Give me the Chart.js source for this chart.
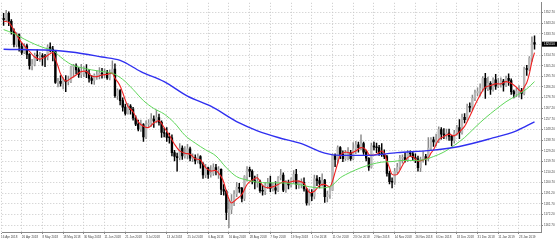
<!DOCTYPE html>
<html>
<head>
<meta charset="utf-8">
<script src="https://cdn.jsdelivr.net/npm/chart.js@4.4.1/dist/chart.umd.min.js"></script>
<style>
html,body{margin:0;padding:0;background:#fff;}
canvas{display:block;}
</style>
</head>
<body>
<canvas id="c" width="557" height="244"></canvas>
<script>
// ---- data (daily candles, 17 Apr 2018 .. 31 Jan 2019) ----
const open = [
1347.5,1346.4,1352.1,1345.0,1335.8,1324.2,1333.0,1322.4,1317.2,1323.0,
1315.3,1305.3,1306.4,1314.6,1314.0,1314.2,1313.2,1312.8,1321.8,1320.0,
1318.0,1290.2,1291.3,1289.5,1291.8,1291.0,1291.5,1304.2,1304.8,1301.5,
1297.5,1298.8,1300.4,1298.5,1293.8,1292.0,1296.5,1297.2,1298.6,1298.0,
1299.0,1294.3,1299.0,1302.3,1278.5,1283.0,1274.0,1268.2,1262.5,1269.2,
1266.0,1258.5,1253.0,1248.5,1252.5,1241.5,1253.0,1254.0,1257.5,1255.8,
1258.8,1254.5,1245.5,1244.8,1241.2,1240.8,1227.5,1224.0,1223.0,1231.5,
1224.5,1225.3,1231.0,1222.5,1223.0,1220.0,1224.0,1217.5,1207.5,1214.0,
1208.0,1208.8,1214.2,1212.0,1212.5,1194.5,1193.0,1174.0,1176.8,1184.0,
1190.5,1196.5,1195.5,1186.5,1206.0,1212.5,1210.8,1202.5,1201.0,1201.5,
1193.5,1193.0,1198.0,1200.5,1195.5,1196.0,1194.0,1205.0,1207.5,1194.0,
1200.5,1198.5,1203.5,1208.0,1199.0,1199.5,1201.0,1195.0,1182.5,1191.5,
1188.5,1204.0,1202.5,1200.0,1203.0,1188.0,1190.0,1194.0,1225.0,1221.5,
1232.0,1226.0,1222.0,1227.0,1227.5,1222.0,1231.0,1234.5,1232.0,1235.5,
1228.0,1222.5,1214.5,1233.5,1232.5,1232.0,1227.0,1226.0,1224.0,1209.0,
1201.5,1201.0,1210.5,1214.5,1222.5,1223.0,1221.0,1227.0,1226.5,1223.0,
1222.0,1214.0,1221.0,1224.0,1222.0,1231.5,1239.0,1237.0,1238.0,1248.0,
1244.0,1243.0,1245.0,1242.0,1238.5,1245.0,1250.0,1245.5,1259.0,1257.0,
1269.0,1268.0,1276.0,1281.0,1282.0,1285.0,1294.0,1285.0,1289.5,1284.0,
1292.5,1287.0,1289.0,1291.5,1288.0,1294.0,1292.0,1282.0,1280.0,1282.5,
1283.0,1280.5,1302.5,1302.0,1312.0,1326.0];
const high = [
1352.0,1354.8,1353.5,1346.5,1338.2,1334.8,1333.8,1325.5,1325.0,1324.5,
1316.0,1311.0,1316.5,1319.5,1317.3,1316.0,1315.3,1324.0,1325.8,1322.5,
1318.8,1294.0,1296.5,1294.5,1296.3,1296.0,1305.0,1306.5,1307.0,1303.5,
1306.5,1304.5,1306.3,1302.0,1296.5,1298.0,1300.5,1303.5,1303.0,1302.5,
1301.0,1301.5,1309.5,1307.0,1284.5,1283.8,1276.5,1271.0,1271.5,1270.5,
1268.0,1260.5,1256.5,1256.5,1253.5,1256.0,1257.0,1262.5,1260.5,1265.5,
1262.0,1256.0,1249.5,1250.0,1245.0,1243.5,1229.5,1227.0,1235.5,1233.5,
1233.0,1235.0,1232.5,1226.5,1225.5,1226.5,1224.8,1218.5,1217.0,1214.5,
1216.0,1217.5,1217.0,1215.0,1213.0,1199.0,1194.0,1185.0,1190.0,1193.5,
1201.0,1200.0,1196.5,1207.0,1215.0,1214.5,1212.0,1206.5,1208.0,1203.0,
1198.5,1201.0,1204.5,1206.5,1200.0,1201.5,1206.0,1212.5,1209.5,1202.5,
1203.0,1205.0,1211.5,1212.5,1202.5,1204.0,1205.0,1195.5,1195.0,1194.5,
1207.5,1207.0,1205.5,1208.5,1203.5,1193.0,1197.0,1226.5,1226.5,1233.5,
1233.0,1229.0,1229.5,1232.0,1229.5,1236.5,1237.5,1237.0,1243.5,1237.0,
1229.5,1223.0,1236.0,1237.0,1236.0,1234.0,1235.5,1230.0,1225.0,1211.0,
1205.0,1213.5,1218.0,1225.0,1225.5,1227.5,1229.5,1229.0,1228.0,1226.5,
1224.5,1223.5,1228.5,1226.0,1241.0,1241.0,1241.5,1244.0,1250.5,1250.0,
1249.0,1248.5,1248.5,1243.0,1247.5,1252.0,1257.0,1262.0,1262.5,1271.0,
1272.0,1279.0,1283.5,1285.5,1289.0,1295.5,1298.5,1295.0,1291.0,1294.5,
1297.5,1294.0,1294.5,1293.0,1296.0,1298.0,1293.5,1283.5,1285.0,1287.5,
1285.0,1304.0,1305.5,1313.5,1331.0,1332.0];
const low = [
1341.2,1344.6,1341.0,1333.5,1322.0,1322.0,1318.3,1315.4,1316.0,1311.5,
1302.2,1301.5,1305.0,1309.8,1309.0,1305.5,1304.3,1310.5,1317.5,1309.5,
1289.5,1286.2,1287.0,1284.5,1282.0,1288.0,1290.0,1295.0,1298.0,1294.8,
1294.5,1295.5,1294.5,1290.5,1289.0,1288.5,1293.0,1293.5,1294.0,1294.5,
1293.0,1292.5,1298.0,1276.8,1275.0,1270.2,1264.5,1261.0,1261.8,1262.0,
1256.5,1251.5,1247.0,1246.5,1237.5,1240.0,1250.5,1251.0,1250.0,1254.0,
1252.0,1241.0,1241.5,1237.5,1236.0,1224.5,1220.0,1211.0,1221.0,1221.5,
1222.5,1222.0,1220.0,1219.5,1217.5,1218.0,1213.5,1204.5,1205.0,1204.5,
1205.5,1207.0,1207.5,1204.5,1190.0,1189.5,1167.5,1160.3,1173.0,1180.0,
1188.0,1192.0,1183.5,1184.5,1202.0,1206.0,1199.5,1195.0,1196.5,1192.0,
1189.5,1190.0,1195.5,1192.5,1193.0,1190.5,1192.5,1203.0,1192.5,1192.0,
1195.0,1196.5,1200.0,1195.0,1195.5,1196.0,1193.0,1180.5,1180.5,1184.5,
1186.0,1198.0,1196.0,1197.5,1183.0,1183.5,1186.5,1193.5,1215.0,1218.0,
1222.0,1219.5,1220.5,1221.0,1220.5,1221.0,1226.5,1228.0,1230.0,1226.0,
1220.0,1211.5,1213.5,1230.0,1227.5,1225.0,1224.0,1222.0,1206.5,1199.5,
1196.0,1199.0,1209.0,1212.5,1218.0,1219.0,1219.5,1224.0,1220.5,1218.5,
1211.0,1210.5,1219.0,1216.5,1220.0,1229.5,1233.0,1233.5,1236.5,1239.5,
1240.0,1239.5,1238.5,1233.5,1236.0,1243.0,1240.0,1244.0,1254.0,1256.5,
1264.0,1265.5,1274.0,1278.5,1278.0,1282.5,1276.0,1283.0,1279.5,1282.5,
1284.0,1285.5,1286.0,1282.5,1286.5,1287.5,1279.5,1276.5,1277.5,1277.0,
1275.5,1279.0,1296.5,1300.5,1309.0,1320.0];
const close = [
1346.4,1352.1,1345.0,1335.8,1324.2,1333.0,1322.4,1317.2,1323.0,1315.3,
1305.3,1306.4,1314.6,1314.0,1314.2,1313.2,1312.8,1321.8,1320.0,1318.0,
1290.2,1291.3,1289.5,1291.8,1291.0,1291.5,1304.2,1304.8,1301.5,1297.5,
1298.8,1300.4,1298.5,1293.8,1292.0,1296.5,1297.2,1298.6,1298.0,1299.0,
1294.3,1299.0,1302.3,1278.5,1283.0,1274.0,1268.2,1262.5,1269.2,1266.0,
1258.5,1253.0,1248.5,1252.5,1241.5,1253.0,1254.0,1257.5,1255.8,1258.8,
1254.5,1245.5,1244.8,1241.2,1240.8,1227.5,1224.0,1223.0,1231.5,1224.5,
1225.3,1231.0,1222.5,1223.0,1220.0,1224.0,1217.5,1207.5,1214.0,1208.0,
1208.8,1214.2,1212.0,1212.5,1194.5,1193.0,1174.0,1176.8,1184.0,1190.5,
1196.5,1195.5,1186.5,1206.0,1212.5,1210.8,1202.5,1201.0,1201.5,1193.5,
1193.0,1198.0,1200.5,1195.5,1196.0,1194.0,1205.0,1207.5,1194.0,1200.5,
1198.5,1203.5,1208.0,1199.0,1199.5,1201.0,1195.0,1182.5,1191.5,1188.5,
1204.0,1202.5,1200.0,1203.0,1188.0,1190.0,1194.0,1225.0,1221.5,1232.0,
1226.0,1222.0,1227.0,1227.5,1222.0,1231.0,1234.5,1232.0,1235.5,1228.0,
1222.5,1214.5,1233.5,1232.5,1232.0,1227.0,1226.0,1224.0,1209.0,1201.5,
1201.0,1210.5,1214.5,1222.5,1223.0,1221.0,1227.0,1226.5,1223.0,1222.0,
1214.0,1221.0,1224.0,1222.0,1231.5,1239.0,1237.0,1238.0,1248.0,1244.0,
1243.0,1245.0,1242.0,1238.5,1245.0,1250.0,1245.5,1259.0,1257.0,1269.0,
1268.0,1276.0,1281.0,1282.0,1285.0,1294.0,1285.0,1289.5,1284.0,1292.5,
1287.0,1289.0,1291.5,1288.0,1294.0,1292.0,1282.0,1280.0,1282.5,1283.0,
1280.5,1302.5,1302.0,1312.0,1326.0,1324.5];

// moving averages (bar index, value)
const maRedIdx = [0,2,4,6,8,10,12,14,16,18,19,20,21,22,24,26,28,30,32,34,36,38,40,42,43,44,45,46,48,50,52,54,56,58,60,62,64,66,68,70,72,74,76,78,80,82,84,85,86,87,88,90,92,94,96,98,100,102,104,106,108,110,112,114,116,118,120,122,124,126,127,128,129,130,132,134,136,138,140,141,142,144,146,147,148,149,150,152,154,156,158,160,162,164,165,166,168,170,172,174,176,178,180,182,184,186,188,190,192,194,196,198,199,200,201,202,203,204,205];
const maRed = [1345,1344,1337,1329,1323,1318,1313,1311,1313,1316,1317,1311,1305,1298,1291.5,1294,1297,1300,1300,1296,1295.5,1297,1297.5,1298.5,1294,1291,1287,1281,1269,1264,1255,1251,1250,1254,1256,1250,1243,1235,1229,1227,1226,1222,1221,1214,1211,1211.5,1206,1201,1193,1186,1182.5,1186,1190,1199,1203,1205,1198,1196,1197,1199,1201.5,1201,1202,1202,1200,1192,1193,1198,1199,1197,1202,1210,1218,1225,1228,1227,1229,1232,1230,1226,1225,1226,1229,1227,1220,1214,1208,1208,1216,1223,1224,1220,1221,1223,1227,1230,1239,1242,1244,1242.5,1246,1251,1260,1270,1279,1286,1287.5,1289,1289,1291,1289.5,1286,1283.5,1282,1286,1290,1298,1309,1317];
const maGreenIdx = [0,4,8,12,16,19,22,26,30,34,38,42,46,50,54,58,62,66,70,74,78,82,86,90,94,98,102,106,110,114,118,122,126,130,134,138,142,146,150,154,158,162,166,170,174,178,182,186,190,194,198,202,205];
const maGreen = [1337.5,1334,1329,1324.5,1321,1319,1313,1306.5,1303.5,1301.5,1300,1298.5,1293,1284,1274,1267,1262,1254,1243,1236,1230,1224.5,1214,1206,1203,1201,1200.5,1200.5,1200,1199,1197,1196,1197,1205,1210,1214,1217,1219,1219.5,1220.5,1220.5,1221,1224,1228,1234,1241,1250,1258.5,1266,1273,1278.5,1284.5,1291];
const maBlueIdx = [0,18,26,38,45,53,62,71,80,91,98,106,115,124,130,140,152,165,176,188,198,205];
const maBlue = [1320,1319,1317.5,1313,1310,1300,1291,1278,1269,1254,1247,1241,1235.5,1227,1225,1225,1227.5,1229.5,1233,1240,1247,1255];

// axis labels
const xTickLabels = ["16 Apr 2018","26 Apr 2018","8 May 2018","18 May 2018","30 May 2018","11 Jun 2018","21 Jun 2018","3 Jul 2018","13 Jul 2018","25 Jul 2018","6 Aug 2018","16 Aug 2018","28 Aug 2018","7 Sep 2018","19 Sep 2018","1 Oct 2018","11 Oct 2018","23 Oct 2018","2 Nov 2018","14 Nov 2018","26 Nov 2018","6 Dec 2018","18 Dec 2018","31 Dec 2018","11 Jan 2019","23 Jan 2019"];
const yTicks = [1352.70,1343.20,1333.70,1324.20,1314.70,1305.20,1295.70,1286.20,1276.70,1267.20,1257.70,1248.20,1238.70,1229.20,1219.70,1210.20,1200.70,1191.20,1181.70,1172.20,1162.70];

// ---- chart ----
const N = close.length;
const bull = close.map((c,i)=>c>=open[i]);
const bodyData = close.map((c,i)=>({x:i, y:[open[i], c]}));
const wickData = close.map((c,i)=>({x:i, y:[low[i], high[i]]}));
const pts = (idx, vals) => idx.map((x,k)=>({x:x, y:vals[k]}));

const priceBox = {
  id:'priceBox',
  afterDraw(chart){
    const ys = chart.scales.y, ctx = chart.ctx;
    const last = close[N-1];
    const py = ys.getPixelForValue(last);
    const x0 = chart.chartArea.right + 1;
    ctx.save();
    ctx.fillStyle = '#000';
    ctx.fillRect(x0, py-2.5, 557-x0, 5);
    ctx.fillStyle = '#fff';
    ctx.font = '3px "Liberation Sans"';
    ctx.textBaseline = 'middle';
    ctx.textAlign = 'left';
    ctx.fillText(last.toFixed(2), x0+2, py);
    ctx.restore();
  }
};

new Chart(document.getElementById('c'), {
  type:'bar',
  data:{
    datasets:[
      {type:'line', data:pts(maBlueIdx, maBlue), borderColor:'#3030f0', borderWidth:1.4, pointRadius:0, cubicInterpolationMode:'monotone', order:0},
      {type:'line', data:pts(maGreenIdx, maGreen), borderColor:'#5fd65a', borderWidth:1, pointRadius:0, cubicInterpolationMode:'monotone', order:0},
      {type:'line', data:pts(maRedIdx, maRed), borderColor:'#f02020', borderWidth:1.1, pointRadius:0, tension:0.3, order:0},
      {data:bodyData, backgroundColor:bull.map(b=>b?'#b8b8b8':'#000'), borderWidth:0, barThickness:1.7, grouped:false, minBarLength:0.8, order:1},
      {data:wickData, backgroundColor:bull.map(b=>b?'#8a8a8a':'#000'), borderWidth:0, barThickness:0.8, grouped:false, order:2}
    ]
  },
  options:{
    responsive:false, animation:false, events:[],
    layout:{padding:0},
    plugins:{legend:{display:false}, tooltip:{enabled:false}},
    scales:{
      x:{
        type:'linear', min:-0.5, max:207.5, offset:false, position:'bottom',
        grid:{offset:false, color:'#c8c8c8', lineWidth:1, tickLength:2, tickColor:'#888'},
        border:{dash:[1,2], color:'#888', width:1},
        ticks:{autoSkip:false, maxRotation:0, minRotation:0, align:'start', padding:1, color:'#444',
               font:{size:3, family:'Liberation Sans'}, callback:(v,i)=>xTickLabels[i]},
        afterBuildTicks:s=>{ s.ticks = xTickLabels.map((_,k)=>({value:-1+8*k})); },
        afterFit:s=>{ s.height = 12; }
      },
      y:{
        type:'linear', position:'right', min:1156.5, max:1361.5,
        grid:{color:'#c8c8c8', lineWidth:1, tickLength:2, tickColor:'#888'},
        border:{dash:[1,2], color:'#888', width:1},
        ticks:{padding:1, color:'#444', font:{size:3, family:'Liberation Sans'}, callback:v=>v.toFixed(2)},
        afterBuildTicks:s=>{ s.ticks = yTicks.map(v=>({value:v})); },
        afterFit:s=>{ s.width = 16; }
      }
    }
  },
  plugins:[priceBox]
});
</script>
</body>
</html>
